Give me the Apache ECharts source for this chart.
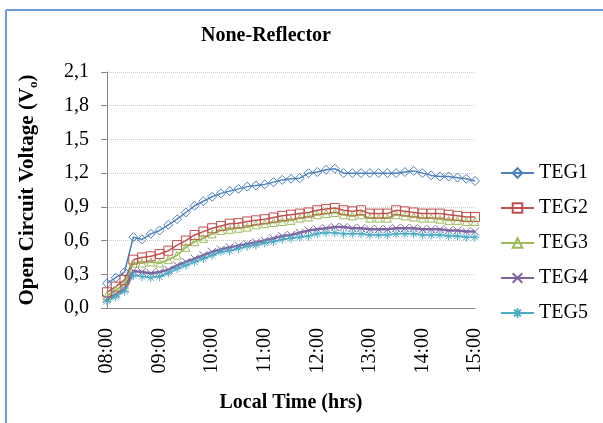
<!DOCTYPE html>
<html>
<head>
<meta charset="utf-8">
<script src="https://cdn.jsdelivr.net/npm/echarts@6/dist/echarts.min.js"></script>
<style>
  html, body { margin: 0; padding: 0; background: #fff; }
  #chart { width: 603px; height: 423px; }
</style>
</head>
<body>
<div id="chart"></div>
<script>
const times = [
  "08:00", "08:10", "08:20", "08:30", "08:40", "08:50",
  "09:00", "09:10", "09:20", "09:30", "09:40", "09:50",
  "10:00", "10:10", "10:20", "10:30", "10:40", "10:50",
  "11:00", "11:10", "11:20", "11:30", "11:40", "11:50",
  "12:00", "12:10", "12:20", "12:30", "12:40", "12:50",
  "13:00", "13:10", "13:20", "13:30", "13:40", "13:50",
  "14:00", "14:10", "14:20", "14:30", "14:40", "14:50",
  "15:00"
];

const teg1 = [0.22, 0.27, 0.32, 0.63, 0.61, 0.66, 0.69, 0.74, 0.79, 0.85, 0.91, 0.95, 0.99, 1.02, 1.04, 1.06, 1.08, 1.09, 1.10, 1.12, 1.14, 1.15, 1.155, 1.20, 1.21, 1.23, 1.24, 1.20, 1.20, 1.20, 1.20, 1.20, 1.20, 1.20, 1.21, 1.22, 1.20, 1.18, 1.17, 1.17, 1.16, 1.15, 1.13];
const teg2 = [0.14, 0.19, 0.25, 0.43, 0.45, 0.46, 0.48, 0.51, 0.56, 0.60, 0.65, 0.68, 0.71, 0.73, 0.75, 0.755, 0.77, 0.78, 0.79, 0.805, 0.82, 0.83, 0.84, 0.85, 0.87, 0.88, 0.89, 0.87, 0.86, 0.87, 0.84, 0.84, 0.84, 0.87, 0.86, 0.85, 0.84, 0.84, 0.84, 0.83, 0.82, 0.81, 0.81];
const teg3 = [0.11, 0.16, 0.21, 0.40, 0.40, 0.41, 0.40, 0.43, 0.47, 0.54, 0.59, 0.62, 0.66, 0.69, 0.70, 0.71, 0.72, 0.74, 0.75, 0.76, 0.77, 0.78, 0.80, 0.81, 0.83, 0.84, 0.85, 0.83, 0.82, 0.83, 0.80, 0.80, 0.80, 0.83, 0.82, 0.81, 0.80, 0.80, 0.79, 0.78, 0.78, 0.77, 0.77];
const teg4 = [0.08, 0.12, 0.17, 0.33, 0.32, 0.31, 0.32, 0.34, 0.38, 0.41, 0.44, 0.47, 0.50, 0.52, 0.54, 0.555, 0.57, 0.585, 0.60, 0.62, 0.64, 0.65, 0.67, 0.69, 0.70, 0.71, 0.72, 0.72, 0.71, 0.71, 0.70, 0.70, 0.70, 0.71, 0.71, 0.71, 0.70, 0.70, 0.70, 0.69, 0.69, 0.68, 0.68];
const teg5 = [0.06, 0.10, 0.15, 0.29, 0.28, 0.27, 0.28, 0.31, 0.35, 0.38, 0.41, 0.44, 0.47, 0.50, 0.51, 0.53, 0.55, 0.56, 0.58, 0.59, 0.61, 0.62, 0.63, 0.64, 0.66, 0.67, 0.67, 0.66, 0.66, 0.66, 0.65, 0.65, 0.65, 0.66, 0.66, 0.66, 0.65, 0.65, 0.65, 0.64, 0.64, 0.63, 0.63];

const serif = "'Liberation Serif', 'Times New Roman', serif";
const crossPath = "path://M0,0L10,10M10,0L0,10";
const starPath = "path://M5,0L5,10M0,5L10,5M1.5,1.5L8.5,8.5M8.5,1.5L1.5,8.5";

function line(name, data, color, symbol, size, width) {
  return {
    name: name,
    type: "line",
    data: data,
    symbol: symbol,
    symbolSize: size,
    showAllSymbol: true,
    lineStyle: { color: color, width: width },
    itemStyle: { color: "none", borderColor: color, borderWidth: 1 },
    emphasis: { disabled: true },
    animation: false
  };
}

const chart = echarts.init(document.getElementById("chart"));
chart.setOption({
  backgroundColor: "#fff",
  textStyle: { fontFamily: serif },
  graphic: [
    { type: "line", shape: { x1: 6, y1: 10, x2: 603, y2: 10 }, style: { stroke: "#6d9de0", lineWidth: 2 } },
    { type: "line", shape: { x1: 6, y1: 10, x2: 6, y2: 423 }, style: { stroke: "#6d9de0", lineWidth: 2 } }
  ],
  title: {
    text: "None-Reflector",
    left: 266,
    top: 26,
    padding: 0,
    textAlign: "center",
    textStyle: { fontFamily: serif, fontSize: 20, fontWeight: "bold", color: "#000" }
  },
  grid: { left: 107, right: 128, top: 72, bottom: 115 },
  legend: {
    orient: "vertical",
    left: 500,
    top: 163,
    padding: 0,
    itemWidth: 33,
    itemHeight: 12,
    itemGap: 15,
    textStyle: { fontFamily: serif, fontSize: 20, color: "#000" },
    data: ["TEG1", "TEG2", "TEG3", "TEG4", "TEG5"]
  },
  xAxis: {
    type: "category",
    data: times,
    boundaryGap: false,
    name: "Local Time (hrs)",
    nameLocation: "middle",
    nameGap: 85,
    nameTextStyle: { fontFamily: serif, fontSize: 20, fontWeight: "bold", color: "#000" },
    axisLine: { lineStyle: { color: "#868686", width: 1 } },
    axisTick: { show: false },
    axisLabel: {
      interval: 5,
      rotate: 90,
      margin: 20,
      fontFamily: serif,
      fontSize: 20,
      color: "#000"
    },
    splitLine: { show: false }
  },
  yAxis: {
    type: "value",
    min: 0,
    max: 2.1,
    interval: 0.3,
    name: "{t|Open Circuit Voltage (V}{s|o}{t|)}",
    nameLocation: "middle",
    nameGap: 67,
    nameTextStyle: {
      rich: {
        t: { fontFamily: serif, fontSize: 21, fontWeight: "bold", color: "#000", lineHeight: 24 },
        s: { fontFamily: serif, fontSize: 13, fontWeight: "bold", color: "#000", lineHeight: 14, verticalAlign: "bottom" }
      }
    },
    axisLine: { show: true, lineStyle: { color: "#868686", width: 1 } },
    axisTick: { show: true, length: 6, lineStyle: { color: "#868686" } },
    axisLabel: {
      margin: 18,
      fontFamily: serif,
      fontSize: 20,
      color: "#000",
      formatter: function (v) { return v.toFixed(1).replace(".", ","); }
    },
    splitLine: { lineStyle: { color: "#c8c8c8", type: "dotted", width: 1 } }
  },
  series: [
    line("TEG1", teg1, "#4f81bd", "diamond", 9, 1.5),
    line("TEG2", teg2, "#c0504d", "rect", 9, 1.5),
    line("TEG3", teg3, "#9bbb59", "triangle", 8, 1.8),
    line("TEG4", teg4, "#8064a2", crossPath, 8, 2.5),
    line("TEG5", teg5, "#4bacc6", starPath, 9, 1.5)
  ]
});
</script>
</body>
</html>
